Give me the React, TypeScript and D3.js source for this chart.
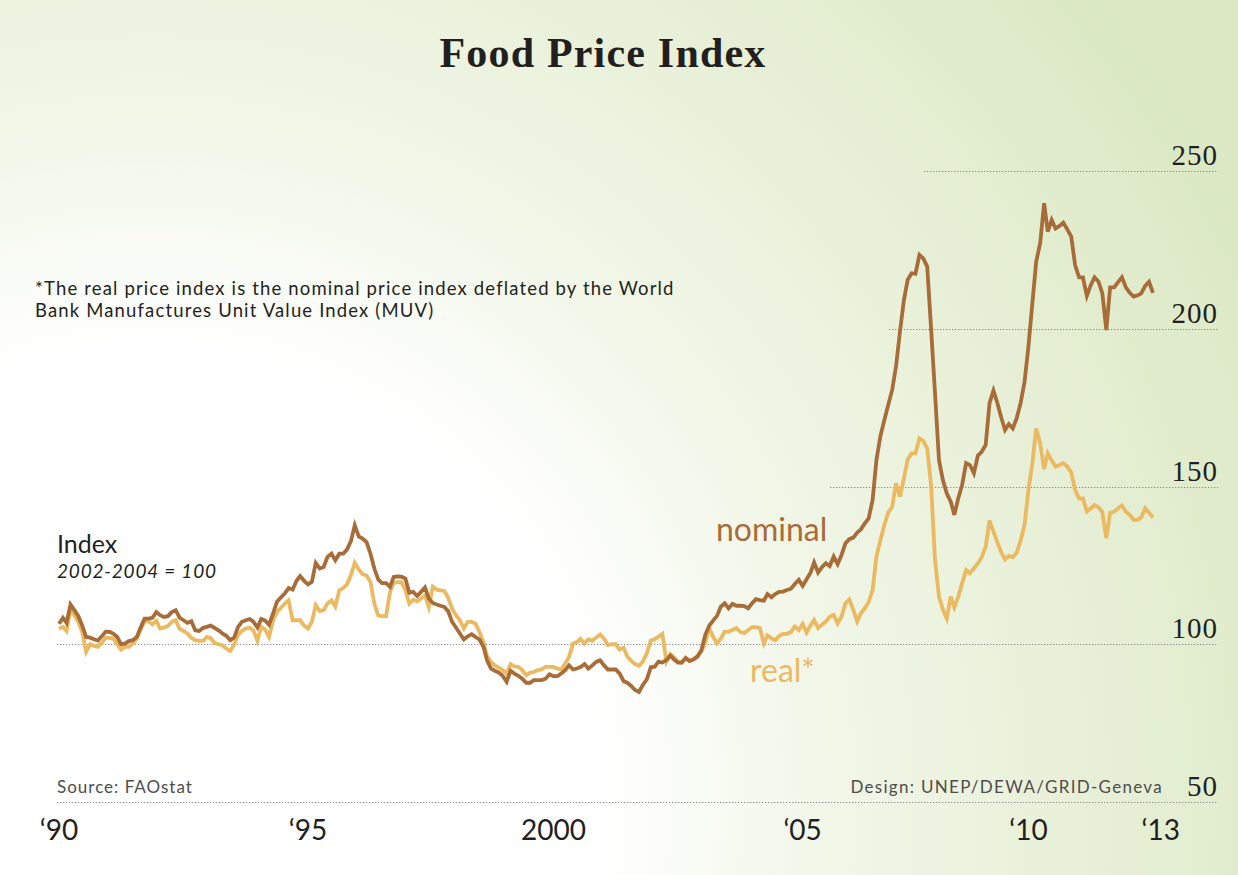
import React, { useEffect, useRef } from 'react';
import * as d3 from 'd3';

// FAO food price index, monthly from Jan 1990 (2002-2004 = 100)
const nominal = [
  106.5, 108.4, 106.8, 112.6, 110.8, 108.9, 106.0, 102.3, 102.1, 101.6,
  101.2, 102.5, 104.0, 103.9, 103.4, 102.3, 100.0, 100.2, 101.0, 101.3,
  102.3, 105.3, 108.1, 108.1, 108.4, 110.2, 109.2, 108.6, 108.9, 110.2,
  110.8, 108.4, 107.6, 106.8, 107.3, 104.4, 104.2, 105.2, 105.5, 105.9,
  105.2, 104.4, 103.4, 102.7, 101.3, 102.1, 105.5, 107.1, 107.6, 108.0,
  107.1, 105.3, 108.0, 107.5, 106.2, 109.7, 113.5, 114.8, 116.1, 117.8,
  117.3, 120.1, 121.6, 120.1, 119.0, 119.8, 125.8, 124.0, 124.5, 127.7,
  128.7, 126.6, 128.7, 128.7, 130.0, 132.7, 137.7, 134.2, 133.5, 132.4,
  128.7, 124.0, 120.5, 119.4, 119.4, 118.2, 121.3, 121.5, 121.4, 120.8,
  116.3, 116.6, 115.3, 116.6, 118.0, 114.5, 113.1, 112.6, 112.2, 111.8,
  110.5, 107.1, 105.3, 103.4, 101.5, 102.5, 103.2, 102.3, 101.5, 99.2,
  94.9, 92.3, 91.6, 91.0, 90.0, 88.1, 91.6, 90.7, 90.0, 89.1,
  87.8, 87.8, 88.6, 88.6, 88.6, 89.1, 90.5, 89.9, 89.9, 90.7,
  91.8, 93.3, 92.0, 92.3, 92.8, 93.7, 92.3, 93.3, 94.4, 94.9,
  93.3, 92.0, 92.0, 92.0, 90.7, 88.3, 87.8, 86.8, 85.5, 84.9,
  87.1, 88.9, 92.7, 92.9, 94.5, 94.2, 95.0, 96.4, 95.2, 94.2,
  94.2, 95.7, 94.7, 95.2, 96.1, 98.0, 103.0, 105.8, 107.5, 109.0,
  111.9, 113.0, 111.4, 112.8, 112.2, 112.2, 112.1, 111.4, 113.0, 114.3,
  114.0, 113.8, 115.9, 114.9, 115.9, 116.6, 116.7, 117.2, 117.6, 119.1,
  120.4, 118.5, 120.6, 122.7, 125.9, 122.7, 124.4, 125.7, 124.8, 127.8,
  125.4, 128.3, 132.0, 133.3, 133.8, 135.4, 136.4, 138.3, 139.9, 145.7,
  158.4, 166.0, 171.1, 175.8, 180.6, 188.0, 199.1, 209.1, 215.5, 217.6,
  217.4, 223.4, 222.3, 219.7, 199.6, 179.5, 158.4, 152.1, 147.8, 145.2,
  141.0, 146.3, 150.5, 157.4, 156.8, 154.2, 159.8, 161.0, 163.2, 176.4,
  180.4, 176.4, 172.1, 167.9, 169.8, 168.4, 171.6, 176.4, 183.2, 194.3,
  208.1, 221.3, 227.1, 239.8, 230.8, 234.5, 231.8, 232.6, 233.6, 231.5,
  229.2, 220.2, 216.3, 216.3, 210.4, 213.9, 216.3, 214.9, 211.2, 199.6,
  213.1, 213.1, 214.8, 216.3, 213.1, 211.4, 210.2, 210.6, 211.2, 213.6,
  214.9, 211.4
];

const real = [
  105.0, 105.5, 104.2, 111.0, 109.2, 107.1, 103.9, 97.6, 100.0, 99.5,
  99.2, 100.5, 102.0, 102.0, 101.8, 100.0, 98.3, 99.2, 99.2, 100.2,
  101.8, 104.6, 107.3, 107.3, 106.3, 107.4, 105.0, 105.3, 105.8, 107.1,
  107.6, 104.9, 104.2, 103.4, 102.0, 101.3, 101.1, 101.1, 102.3, 101.9,
  100.4, 100.0, 99.7, 98.6, 97.9, 99.9, 102.9, 104.2, 105.0, 105.2,
  104.4, 101.1, 105.5, 104.6, 102.3, 107.6, 110.2, 111.5, 112.9, 113.9,
  107.6, 107.6, 107.6, 105.9, 105.0, 107.1, 112.4, 110.5, 110.8, 112.9,
  113.9, 112.0, 117.1, 117.8, 119.0, 121.9, 125.8, 123.7, 122.2, 121.8,
  119.7, 112.9, 109.1, 108.9, 108.9, 116.6, 119.4, 119.7, 119.7, 117.1,
  112.9, 114.1, 113.6, 114.5, 115.5, 111.8, 118.2, 117.3, 117.1, 116.9,
  114.8, 111.3, 109.2, 107.6, 105.0, 107.1, 107.1, 106.5, 103.9, 100.7,
  96.2, 94.4, 93.3, 92.6, 91.8, 90.7, 93.7, 93.0, 92.8, 91.8,
  90.2, 91.0, 91.2, 91.8, 92.0, 92.8, 92.8, 92.8, 92.3, 92.0,
  93.9, 96.0, 100.2, 100.7, 101.7, 100.2, 101.6, 101.1, 102.1, 103.1,
  101.8, 99.7, 100.0, 100.0, 98.3, 98.9, 96.1, 94.8, 93.7, 93.2,
  94.5, 97.1, 101.1, 101.6, 102.4, 103.3, 94.5, 96.9, 95.9, 94.5,
  94.2, 95.5, 94.7, 95.2, 96.3, 97.7, 100.3, 105.2, 102.4, 100.3,
  101.8, 104.0, 104.0, 104.5, 105.1, 103.9, 103.5, 104.5, 105.4, 105.4,
  105.1, 100.3, 102.8, 101.9, 101.3, 102.6, 103.3, 103.3, 103.9, 105.6,
  104.5, 106.4, 103.7, 106.0, 107.7, 105.1, 106.2, 107.2, 108.7, 109.3,
  106.6, 108.7, 113.0, 114.2, 110.9, 107.2, 109.8, 111.4, 113.3, 117.2,
  127.8, 133.0, 137.8, 141.7, 143.6, 151.0, 146.8, 152.6, 158.6, 160.5,
  160.5, 165.3, 164.5, 162.1, 150.0, 126.7, 115.1, 111.1, 108.2, 115.1,
  111.7, 115.1, 119.3, 123.5, 122.5, 124.1, 125.6, 127.6, 130.9, 139.2,
  135.7, 132.2, 129.3, 126.9, 128.0, 127.6, 129.0, 132.8, 137.8, 148.9,
  157.4, 168.4, 163.7, 155.5, 160.5, 158.2, 156.3, 156.8, 157.4, 156.3,
  154.4, 148.9, 146.2, 146.2, 142.1, 143.1, 144.1, 143.4, 142.0, 133.6,
  141.7, 142.0, 143.1, 144.0, 142.0, 141.0, 139.4, 139.4, 140.2, 143.1,
  141.7, 140.2
];

const yTicks = [50, 100, 150, 200, 250];
const xTickLabels = ['\u201890', '\u201895', '2000', '\u201805', '\u201810', '\u201813'];
const xTickDates = [
  new Date(1990, 0, 1), new Date(1995, 4, 1), new Date(2000, 7, 1),
  new Date(2005, 11, 1), new Date(2010, 9, 1), new Date(2013, 7, 1)
];

const W = 1238;
const H = 875;
const SANS = "Lato, 'Open Sans', sans-serif";
const SERIF = "'Liberation Serif', 'DejaVu Serif', serif";
const NOMINAL_COLOR = '#a86c38';
const REAL_COLOR = '#ebb95f';

export default function App() {
  const ref = useRef<SVGSVGElement>(null);

  useEffect(() => {
    document.body.style.margin = '0';
    const svg = d3.select(ref.current);
    svg.selectAll('*').remove();

    // background: white round the lower left, pale green further out
    const defs = svg.append('defs');
    const grad = defs
      .append('radialGradient')
      .attr('id', 'bg')
      .attr('gradientUnits', 'userSpaceOnUse')
      .attr('cx', 150).attr('cy', 800)
      .attr('r', 1250);
    grad.append('stop').attr('offset', 0).attr('stop-color', '#ffffff');
    grad.append('stop').attr('offset', 0.36).attr('stop-color', '#ffffff');
    grad.append('stop').attr('offset', 0.55).attr('stop-color', '#f1f6e7');
    grad.append('stop').attr('offset', 1).attr('stop-color', '#dbe8c3');
    svg.append('rect').attr('width', W).attr('height', H).attr('fill', 'url(#bg)');

    const months = nominal.map((_, i) => new Date(1990, i, 1));
    const x = d3.scaleTime().domain([months[0], months[months.length - 1]]).range([59, 1153]);
    const y = d3.scaleLinear().domain([50, 250]).range([802, 171]);

    // dotted gridlines, which start at different points on the left
    const gridStart: Record<number, number> = { 50: 57, 100: 57, 150: 830, 200: 889, 250: 924 };
    svg
      .append('g')
      .selectAll('line')
      .data(yTicks)
      .enter()
      .append('line')
      .attr('x1', (d) => gridStart[d])
      .attr('x2', 1218)
      .attr('y1', (d) => Math.round(y(d)) + 0.5)
      .attr('y2', (d) => Math.round(y(d)) + 0.5)
      .attr('stroke', '#8c8c8c')
      .attr('stroke-width', 1)
      .attr('stroke-dasharray', '1.3,1.7');

    svg
      .append('g')
      .selectAll('text')
      .data(yTicks)
      .enter()
      .append('text')
      .attr('x', 1218)
      .attr('y', (d) => y(d) - 6)
      .attr('text-anchor', 'end')
      .attr('font-family', SERIF)
      .attr('font-size', 29)
      .attr('letter-spacing', 1)
      .attr('fill', '#231f20')
      .text((d) => d);

    svg
      .append('g')
      .selectAll('text')
      .data(xTickLabels)
      .enter()
      .append('text')
      .attr('x', (_, i) => x(xTickDates[i]))
      .attr('y', 840)
      .attr('text-anchor', 'middle')
      .attr('font-family', SANS)
      .attr('font-size', 28)
      .attr('fill', '#231f20')
      .text((d) => d);

    const line = d3
      .line<number>()
      .x((_, i) => x(months[i]))
      .y((d) => y(d));

    svg
      .append('path')
      .datum(real)
      .attr('d', line)
      .attr('fill', 'none')
      .attr('stroke', REAL_COLOR)
      .attr('stroke-width', 3.8)
      .attr('stroke-linejoin', 'miter');

    svg
      .append('path')
      .datum(nominal)
      .attr('d', line)
      .attr('fill', 'none')
      .attr('stroke', NOMINAL_COLOR)
      .attr('stroke-width', 3.8)
      .attr('stroke-linejoin', 'miter');

    // title
    svg
      .append('text')
      .attr('x', 603)
      .attr('y', 67)
      .attr('text-anchor', 'middle')
      .attr('font-family', SERIF)
      .attr('font-weight', 'bold')
      .attr('font-size', 42)
      .attr('letter-spacing', 1.2)
      .attr('fill', '#231f20')
      .text('Food Price Index');

    // footnote about the real index
    const note = svg
      .append('text')
      .attr('font-family', SANS)
      .attr('font-size', 18.5)
      .attr('letter-spacing', 1.15)
      .attr('fill', '#231f20');
    note.append('tspan').attr('x', 35).attr('y', 295)
      .text('*The real price index is the nominal price index deflated by the World');
    note.append('tspan').attr('x', 35).attr('y', 317)
      .text('Bank Manufactures Unit Value Index (MUV)');

    svg.append('text')
      .attr('x', 57).attr('y', 553)
      .attr('font-family', SANS).attr('font-size', 25)
      .attr('fill', '#231f20')
      .text('Index');
    svg.append('text')
      .attr('x', 57).attr('y', 578)
      .attr('font-family', SANS).attr('font-size', 19)
      .attr('font-style', 'italic')
      .attr('letter-spacing', 0.8)
      .attr('fill', '#231f20')
      .text('2002-2004 = 100');

    // series labels
    svg.append('text')
      .attr('x', 716).attr('y', 541)
      .attr('font-family', SANS).attr('font-size', 32)
      .attr('fill', NOMINAL_COLOR)
      .text('nominal');
    svg.append('text')
      .attr('x', 750).attr('y', 682)
      .attr('font-family', SANS).attr('font-size', 32)
      .attr('fill', REAL_COLOR)
      .text('real*');

    svg.append('text')
      .attr('x', 57).attr('y', 793)
      .attr('font-family', SANS).attr('font-size', 17)
      .attr('letter-spacing', 1)
      .attr('fill', '#4d4d4d')
      .text('Source: FAOstat');
    svg.append('text')
      .attr('x', 1163).attr('y', 793)
      .attr('text-anchor', 'end')
      .attr('font-family', SANS).attr('font-size', 17)
      .attr('letter-spacing', 1.3)
      .attr('fill', '#4d4d4d')
      .text('Design: UNEP/DEWA/GRID-Geneva');
  }, []);

  return <svg ref={ref} width={W} height={H} style={{ display: 'block' }} />;
}
